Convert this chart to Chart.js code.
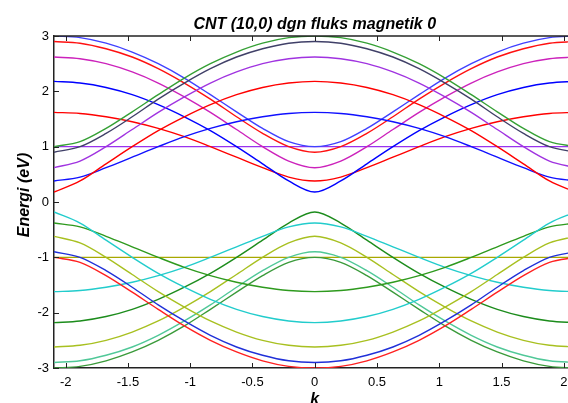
<!DOCTYPE html>
<html>
<head>
<meta charset="utf-8">
<script src="https://cdn.jsdelivr.net/npm/chart.js@4/dist/chart.umd.min.js"></script>
<style>
  body { margin: 0; background: #fff; }
  canvas { display: block; }
</style>
</head>
<body>
<canvas id="myChart" width="568" height="403"></canvas>
<script>
/**
 * CNT (10,0) band data
 */
const kValues = [-2.094, -1.885, -1.676, -1.466, -1.257, -1.047, -0.838, -0.628, -0.419, -0.209, 0,
  0.209, 0.419, 0.628, 0.838, 1.047, 1.257, 1.466, 1.676, 1.885, 2.094];

// conduction bands
const cGreen   = [1.00, 1.09, 1.33, 1.63, 1.94, 2.24, 2.50, 2.71, 2.87, 2.97, 3.00, 2.97, 2.87, 2.71, 2.50, 2.24, 1.94, 1.63, 1.33, 1.09, 1.00];
const cSlate   = [0.90, 1.00, 1.24, 1.54, 1.86, 2.15, 2.41, 2.62, 2.77, 2.87, 2.90, 2.87, 2.77, 2.62, 2.41, 2.15, 1.86, 1.54, 1.24, 1.00, 0.90];
const cPurple  = [0.62, 0.74, 1.00, 1.31, 1.62, 1.90, 2.15, 2.35, 2.50, 2.59, 2.62, 2.59, 2.50, 2.35, 2.15, 1.90, 1.62, 1.31, 1.00, 0.74, 0.62];
const cRedA    = [0.18, 0.38, 0.69, 1.00, 1.29, 1.54, 1.76, 1.94, 2.07, 2.15, 2.18, 2.15, 2.07, 1.94, 1.76, 1.54, 1.29, 1.00, 0.69, 0.38, 0.18];
const cBlueA   = [0.38, 0.45, 0.62, 0.81, 1.00, 1.18, 1.33, 1.45, 1.54, 1.60, 1.62, 1.60, 1.54, 1.45, 1.33, 1.18, 1.00, 0.81, 0.62, 0.45, 0.38];
const cFlat    = [1, 1, 1, 1, 1, 1, 1, 1, 1, 1, 1, 1, 1, 1, 1, 1, 1, 1, 1, 1, 1];
const cBlueTop = [3.00, 2.97, 2.87, 2.71, 2.50, 2.24, 1.94, 1.63, 1.33, 1.09, 1.00, 1.09, 1.33, 1.63, 1.94, 2.24, 2.50, 2.71, 2.87, 2.97, 3.00];
const cRedTop  = [2.90, 2.87, 2.77, 2.62, 2.41, 2.15, 1.86, 1.54, 1.24, 1.00, 0.90, 1.00, 1.24, 1.54, 1.86, 2.15, 2.41, 2.62, 2.77, 2.87, 2.90];
const cMagenta = [2.62, 2.59, 2.50, 2.35, 2.15, 1.90, 1.62, 1.31, 1.00, 0.74, 0.62, 0.74, 1.00, 1.31, 1.62, 1.90, 2.15, 2.35, 2.50, 2.59, 2.62];
const cBlueB   = [2.18, 2.15, 2.07, 1.94, 1.76, 1.54, 1.29, 1.00, 0.69, 0.38, 0.18, 0.38, 0.69, 1.00, 1.29, 1.54, 1.76, 1.94, 2.07, 2.15, 2.18];
const cRedB    = [1.62, 1.60, 1.54, 1.45, 1.33, 1.18, 1.00, 0.81, 0.62, 0.45, 0.38, 0.45, 0.62, 0.81, 1.00, 1.18, 1.33, 1.45, 1.54, 1.60, 1.62];

// valence bands
const vCyanA   = [-0.18, -0.38, -0.69, -1.00, -1.29, -1.54, -1.76, -1.94, -2.07, -2.15, -2.18, -2.15, -2.07, -1.94, -1.76, -1.54, -1.29, -1.00, -0.69, -0.38, -0.18];
const vGreenA  = [-0.38, -0.45, -0.62, -0.81, -1.00, -1.18, -1.33, -1.45, -1.54, -1.60, -1.62, -1.60, -1.54, -1.45, -1.33, -1.18, -1.00, -0.81, -0.62, -0.45, -0.38];
const vYellowA = [-0.62, -0.74, -1.00, -1.31, -1.62, -1.90, -2.15, -2.35, -2.50, -2.59, -2.62, -2.59, -2.50, -2.35, -2.15, -1.90, -1.62, -1.31, -1.00, -0.74, -0.62];
const vBlue    = [-0.90, -1.00, -1.24, -1.54, -1.86, -2.15, -2.41, -2.62, -2.77, -2.87, -2.90, -2.87, -2.77, -2.62, -2.41, -2.15, -1.86, -1.54, -1.24, -1.00, -0.90];
const vRed     = [-1.00, -1.09, -1.33, -1.63, -1.94, -2.24, -2.50, -2.71, -2.87, -2.97, -3.00, -2.97, -2.87, -2.71, -2.50, -2.24, -1.94, -1.63, -1.33, -1.09, -1.00];
const vFlat    = [-1, -1, -1, -1, -1, -1, -1, -1, -1, -1, -1, -1, -1, -1, -1, -1, -1, -1, -1, -1, -1];
const vCyanB   = [-1.62, -1.60, -1.54, -1.45, -1.33, -1.18, -1.00, -0.81, -0.62, -0.45, -0.38, -0.45, -0.62, -0.81, -1.00, -1.18, -1.33, -1.45, -1.54, -1.60, -1.62];
const vGreenB  = [-2.18, -2.15, -2.07, -1.94, -1.76, -1.54, -1.29, -1.00, -0.69, -0.38, -0.18, -0.38, -0.69, -1.00, -1.29, -1.54, -1.76, -1.94, -2.07, -2.15, -2.18];
const vYellowB = [-2.62, -2.59, -2.50, -2.35, -2.15, -1.90, -1.62, -1.31, -1.00, -0.74, -0.62, -0.74, -1.00, -1.31, -1.62, -1.90, -2.15, -2.35, -2.50, -2.59, -2.62];
const vAqua    = [-2.90, -2.87, -2.77, -2.62, -2.41, -2.15, -1.86, -1.54, -1.24, -1.00, -0.90, -1.00, -1.24, -1.54, -1.86, -2.15, -2.41, -2.62, -2.77, -2.87, -2.90];
const vGreenC  = [-3.00, -2.97, -2.87, -2.71, -2.50, -2.24, -1.94, -1.63, -1.33, -1.09, -1.00, -1.09, -1.33, -1.63, -1.94, -2.24, -2.50, -2.71, -2.87, -2.97, -3.00];

const yTicks = [-3, -2, -1, 0, 1, 2, 3];
const chartTitle = 'CNT (10,0) dgn fluks magnetik 0';
const xTitle = 'k';
const yTitle = 'Energi (eV)';

/**
 * series -> datasets
 */
const bands = [
  [cGreen, '#35a035'], [cSlate, '#404068'], [cPurple, '#a033e0'], [cRedA, '#ff0000'],
  [cBlueA, '#1010ff'], [cBlueTop, '#4040ff'], [cRedTop, '#ff1010'], [cMagenta, '#cc22bb'],
  [cBlueB, '#0000ff'], [cRedB, '#ff0000'], [cFlat, '#9933ee'],
  [vCyanA, '#22cccc'], [vGreenA, '#2e9a1e'], [vYellowA, '#a8c020'], [vBlue, '#2030d8'],
  [vRed, '#ff2020'], [vCyanB, '#22cccc'], [vGreenB, '#1c8c1c'], [vYellowB, '#a8c020'],
  [vAqua, '#50c898'], [vGreenC, '#3a9a3a'], [vFlat, '#a8a800'],
];

const datasets = bands.map(([vals, color]) => ({
  data: vals.map((v, i) => ({ x: kValues[i], y: v })),
  borderColor: color,
  borderWidth: 1.4,
  pointRadius: 0,
  fill: false,
  cubicInterpolationMode: 'monotone',
}));

const fontFam = '"Liberation Sans", Arial, Helvetica, sans-serif';

// frame, inward ticks and titles (MATLAB look)
const frame = {
  id: 'frame',
  afterDraw(chart) {
    const { ctx, chartArea: a, scales: { x, y } } = chart;
    ctx.save();
    ctx.strokeStyle = '#222';
    ctx.lineWidth = 1.5;
    ctx.beginPath();
    ctx.moveTo(a.left, a.top);
    ctx.lineTo(a.right, a.top);
    ctx.stroke();
    ctx.lineWidth = 1;
    ctx.beginPath();
    x.ticks.forEach(t => {
      const px = Math.round(x.getPixelForValue(t.value)) + 0.5;
      ctx.moveTo(px, a.bottom); ctx.lineTo(px, a.bottom - 5);
      ctx.moveTo(px, a.top); ctx.lineTo(px, a.top + 5);
    });
    y.ticks.forEach(t => {
      const py = Math.round(y.getPixelForValue(t.value)) + 0.5;
      ctx.moveTo(a.left, py); ctx.lineTo(a.left + 5, py);
    });
    ctx.stroke();

    const cx = x.getPixelForValue(0);
    ctx.fillStyle = '#000';
    ctx.textAlign = 'center';
    ctx.textBaseline = 'alphabetic';
    ctx.font = 'italic bold 16px ' + fontFam;
    ctx.fillText(chartTitle, cx, 29);
    ctx.fillText(xTitle, cx, 404);
    ctx.translate(29, 195);
    ctx.rotate(-Math.PI / 2);
    ctx.fillText(yTitle, 0, 0);
    ctx.restore();
  }
};

const config = {
  type: 'line',
  data: { datasets: datasets },
  options: {
    responsive: false,
    animation: false,
    layout: { padding: { top: 36, right: 0, bottom: 0, left: 0 } },
    plugins: {
      legend: { display: false },
      title: { display: false },
      tooltip: { enabled: false },
    },
    scales: {
      x: {
        type: 'linear',
        min: kValues[0],
        max: 2.034,
        afterFit: s => { s.height = 35; s.paddingLeft = 0; s.paddingRight = 0; },
        grid: { display: false, drawTicks: false },
        border: { color: '#222', width: 1.5 },
        ticks: {
          stepSize: 0.5,
          includeBounds: false,
          padding: 7,
          color: '#000',
          font: { family: fontFam, size: 13 },
          callback: v => String(Math.round(v * 100) / 100),
        },
      },
      y: {
        type: 'linear',
        min: yTicks[0],
        max: yTicks[yTicks.length - 1],
        afterFit: s => { s.width = 54; s.paddingTop = 0; s.paddingBottom = 0; },
        grid: { display: false, drawTicks: false },
        border: { color: '#222', width: 1.5 },
        ticks: {
          stepSize: 1,
          padding: 5,
          color: '#000',
          font: { family: fontFam, size: 13 },
        },
      },
    },
  },
  plugins: [frame],
};

const myChart = new Chart(document.getElementById('myChart'), config);
</script>
</body>
</html>
